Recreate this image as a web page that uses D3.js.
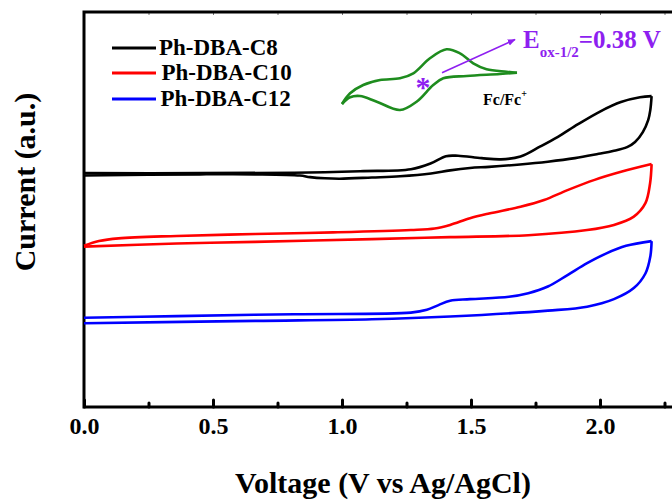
<!DOCTYPE html>
<html>
<head>
<meta charset="utf-8">
<script src="https://cdn.jsdelivr.net/npm/d3@7"></script>
<style>
body { margin: 0; background: #fff; }
text { font-family: "Times New Roman", "Liberation Serif", serif; font-weight: bold; }
</style>
</head>
<body>
<script>
// CV scans, [voltage (V), current (a.u.)], forward scan then reverse scan
var c8Forward = [[0,5.92],[0.45,5.92],[0.814,5.93],[1.07,5.97],[1.267,6.02],[1.345,6.17],[1.403,6.35],[1.45,6.36],[1.541,6.30],[1.616,6.27],[1.692,6.34],[1.767,6.59],[1.837,6.84],[1.915,7.16],[2.0,7.48],[2.081,7.72],[2.155,7.84],[2.2,7.87]]
var c8Reverse = [[2.2,7.87],[2.195,7.52],[2.187,7.27],[2.166,6.96],[2.136,6.71],[2.105,6.58],[2.05,6.48],[1.995,6.41],[1.903,6.30],[1.798,6.21],[1.69,6.14],[1.57,6.08],[1.496,6.05],[1.419,5.99],[1.345,5.91],[1.225,5.84],[1.116,5.81],[0.992,5.78],[0.934,5.79],[0.876,5.82],[0.837,5.86],[0.663,5.89],[0.45,5.89],[0,5.86]]

var c10Forward = [[0,4.08],[0.058,4.20],[0.134,4.27],[0.36,4.33],[0.663,4.38],[0.965,4.42],[1.267,4.48],[1.359,4.52],[1.419,4.61],[1.496,4.78],[1.57,4.90],[1.692,5.07],[1.783,5.24],[1.874,5.49],[1.979,5.75],[2.085,5.96],[2.2,6.15]]
var c10Reverse = [[2.2,6.15],[2.194,5.66],[2.176,5.16],[2.131,4.82],[2.054,4.61],[1.95,4.48],[1.722,4.35],[1.419,4.30],[1.116,4.25],[0.663,4.18],[0.36,4.14],[0,4.06]]

var c12Forward = [[0,2.26],[0.36,2.30],[0.814,2.35],[1.267,2.39],[1.329,2.46],[1.374,2.58],[1.419,2.69],[1.496,2.73],[1.647,2.79],[1.722,2.88],[1.798,3.05],[1.874,3.34],[1.95,3.64],[2.025,3.89],[2.101,4.08],[2.2,4.20]]
var c12Reverse = [[2.2,4.20],[2.195,3.81],[2.176,3.38],[2.131,3.01],[2.054,2.73],[1.95,2.54],[1.798,2.44],[1.419,2.29],[1.116,2.22],[0.663,2.18],[0,2.12]]

// ferrocene reference (inset)
var fcForward = [[0,0],[0.037,1.07],[0.097,1.9],[0.174,2.4],[0.265,2.57],[0.326,3.07],[0.402,4.57],[0.478,5.47],[0.539,5.07],[0.6,4.07],[0.661,3.47],[0.753,3.23],[0.8,3.13]]
var fcReverse = [[0.8,3.13],[0.722,3.0],[0.57,2.8],[0.463,2.57],[0.417,1.9],[0.341,0.23],[0.265,-0.6],[0.159,0.23],[0.082,0.8],[0.037,0.67],[0,0]]

var seriesNames = ["Ph-DBA-C8", "Ph-DBA-C10", "Ph-DBA-C12"]
var seriesColors = ["#000000", "#ff0000", "#0000ff"]
var majorTicks = [0, 0.5, 1.0, 1.5, 2.0]
var minorTicks = [0.25, 0.75, 1.25, 1.75, 2.25]

var width = 672
var height = 501

var svg = d3.select('body')
    .append('svg')
    .attr('width', width)
    .attr('height', height)

var x = d3.scaleLinear().domain([0, 2.5]).range([84, 729])
var y = d3.scaleLinear().domain([0, 10]).range([407, 12])

// inset scales
var xi = d3.scaleLinear().domain([0, 0.8]).range([342, 517])
var yi = d3.scaleLinear().domain([0, 6]).range([104, 44])

// ticks (inward)
var bottomMajor = svg.append('g')
    .attr('transform', 'translate(0,407)')
    .call(d3.axisBottom(x).tickValues(majorTicks).tickSize(-7).tickFormat(d3.format('.1f')))
bottomMajor.select('.domain').remove()
bottomMajor.selectAll('line').attr('stroke-width', 3).attr('stroke-linecap', 'round')
bottomMajor.selectAll('text')
    .attr('y', 10)
    .attr('dy', '0.71em')
    .style('font-size', '24px')
    .style('font-family', '"Times New Roman", "Liberation Serif", serif')
    .style('font-weight', 'bold')
    .attr('fill', '#000')

var bottomMinor = svg.append('g')
    .attr('transform', 'translate(0,407)')
    .call(d3.axisBottom(x).tickValues(minorTicks).tickSize(-4).tickFormat(''))
bottomMinor.select('.domain').remove()
bottomMinor.selectAll('line').attr('stroke-width', 3).attr('stroke-linecap', 'round')

var topTicks = svg.append('g')
    .attr('transform', 'translate(0,12)')
    .call(d3.axisTop(x).tickValues(majorTicks.concat(minorTicks)).tickSize(-3).tickFormat(''))
topTicks.select('.domain').remove()
topTicks.selectAll('line').attr('stroke-width', 1).attr('stroke', '#777')

// frame
svg.append('rect')
    .attr('x', x(0))
    .attr('y', y(10))
    .attr('width', x(2.5) - x(0))
    .attr('height', y(0) - y(10))
    .attr('fill', 'none')
    .attr('stroke', '#000')
    .attr('stroke-width', 3)

var line = d3.line()
    .x(function (d) { return x(d[0]) })
    .y(function (d) { return y(d[1]) })
    .curve(d3.curveCatmullRom.alpha(0.5))

var scans = [[c8Forward, c8Reverse], [c10Forward, c10Reverse], [c12Forward, c12Reverse]]
scans.forEach(function (s, i) {
    s.forEach(function (branch) {
        svg.append('path')
            .attr('d', line(branch))
            .attr('fill', 'none')
            .attr('stroke', seriesColors[i])
            .attr('stroke-width', 2.6)
            .attr('stroke-linejoin', 'round')
    })
})

// inset: Fc/Fc+
var insetLine = d3.line()
    .x(function (d) { return xi(d[0]) })
    .y(function (d) { return yi(d[1]) })
    .curve(d3.curveCatmullRom.alpha(0.5))

;[fcForward, fcReverse].forEach(function (branch) {
    svg.append('path')
        .attr('d', insetLine(branch))
        .attr('fill', 'none')
        .attr('stroke', '#1e8c1e')
        .attr('stroke-width', 2.6)
        .attr('stroke-linejoin', 'round')
})

var purple = '#8e1ff0'

svg.append('defs').append('marker')
    .attr('id', 'arrow')
    .attr('viewBox', '0 0 10 10')
    .attr('refX', 9).attr('refY', 5)
    .attr('markerWidth', 5).attr('markerHeight', 5)
    .attr('orient', 'auto')
    .append('path')
    .attr('d', 'M0,1L10,5L0,9Z')
    .attr('fill', purple)

svg.append('line')
    .attr('x1', 442).attr('y1', 72.7)
    .attr('x2', 515).attr('y2', 39.5)
    .attr('stroke', purple)
    .attr('stroke-width', 1.6)
    .attr('marker-end', 'url(#arrow)')

svg.append('text')
    .attr('x', 423).attr('y', 97)
    .attr('text-anchor', 'middle')
    .style('font-size', '30px')
    .attr('fill', purple)
    .text('*')

var eLabel = svg.append('text')
    .attr('x', 523).attr('y', 48)
    .style('font-size', '25px')
    .attr('fill', purple)
eLabel.append('tspan').text('E')
eLabel.append('tspan').attr('dy', 9).style('font-size', '15px').text('ox-1/2')
eLabel.append('tspan').attr('dy', -9).text('=0.38 V')

var fcLabel = svg.append('text')
    .attr('x', 483).attr('y', 105)
    .style('font-size', '16px')
    .attr('fill', '#000')
fcLabel.append('tspan').text('Fc/Fc')
fcLabel.append('tspan').attr('dy', -8).style('font-size', '10px').text('+')

// legend
var legendY = [48, 73, 99]
var legendTextX = [159, 161.5, 160.5]
seriesNames.forEach(function (name, i) {
    svg.append('line')
        .attr('x1', 112).attr('x2', 156)
        .attr('y1', legendY[i]).attr('y2', legendY[i])
        .attr('stroke', seriesColors[i])
        .attr('stroke-width', 3)
    svg.append('text')
        .attr('x', legendTextX[i])
        .attr('y', legendY[i] + 7)
        .style('font-size', '23px')
        .attr('fill', '#000')
        .text(name)
})

// axis titles
svg.append('text')
    .attr('x', 383).attr('y', 493)
    .attr('text-anchor', 'middle')
    .style('font-size', '30px')
    .text('Voltage (V vs Ag/AgCl)')

svg.append('text')
    .attr('transform', 'translate(35,182) rotate(-90)')
    .attr('text-anchor', 'middle')
    .style('font-size', '30px')
    .text('Current (a.u.)')
</script>
</body>
</html>
